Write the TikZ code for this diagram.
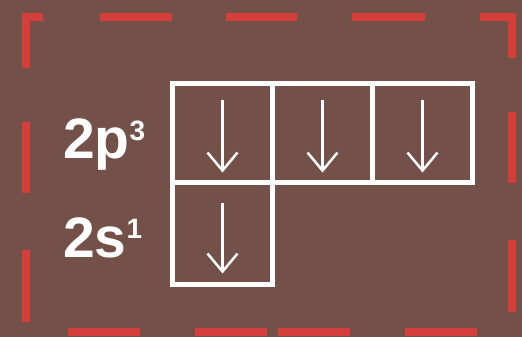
\documentclass[tikz,border=0pt]{standalone}
\usepackage{fontspec}
\setmainfont{Liberation Sans}
\usetikzlibrary{arrows.meta,positioning}
\definecolor{bgbrown}{HTML}{735149}
\definecolor{dashred}{HTML}{D43F3C}

\begin{document}
\begin{tikzpicture}[x=1pt,y=-1pt]
\tikzset{
  orbital/.style={rectangle,draw=white,line width=5pt,minimum width=100pt,minimum height=99pt,inner sep=0pt,outer sep=0pt},
  spin/.style={white,line width=2.5pt,-{Straight Barb[length=18pt,width=30pt,line width=2.5pt]}},
  border/.style={dashred,line width=8pt},
  shelllabel/.style={anchor=base west,inner sep=0pt,text=white,font=\fontsize{57}{60}\selectfont\bfseries}
}
\fill[bgbrown] (0,0) rectangle (522,337);
\useasboundingbox (0,0) rectangle (522,337);
% red dashed frame
\draw[border] (26,68) -- (26,17) -- (43,17);
\draw[border] (480,17) -- (512,17) -- (512,58);
\foreach \a/\b in {100/172,226/297,352/425}
  \draw[border] (\a,17) -- (\b,17);
\foreach \a/\b in {68/140,195/267,278/350,405/477}
  \draw[border] (\a,332) -- (\b,332);
\foreach \a/\b in {122/193,250/322}
  \draw[border] (26,\a) -- (26,\b);
\foreach \a/\b in {112/183,240/312}
  \draw[border] (512,\a) -- (512,\b);
% boxes
\node[orbital] (b_p1) at (222.5,133) {};
\node[orbital,right=0pt of b_p1] (b_p2) {};
\node[orbital,right=0pt of b_p2] (b_p3) {};
\node[orbital,below=0pt of b_p1,minimum height=102pt] (b_s) {};
% labels
\node[shelllabel] (l_p) at (63,158) {2p\raisebox{18pt}{\fontsize{28}{30}\selectfont 3}};
\node[shelllabel] (l_s) at (63,257) {2s\raisebox{19pt}{\fontsize{28}{30}\selectfont 1}};
% electrons
\foreach \b in {b_p1,b_p2,b_p3}
  \draw[spin] ([yshift=-16pt]\b.north) -- ([yshift=10pt]\b.south);
\draw[spin] ([yshift=-20pt]b_s.north) -- ([yshift=11pt]b_s.south);
\end{tikzpicture}
\end{document}
